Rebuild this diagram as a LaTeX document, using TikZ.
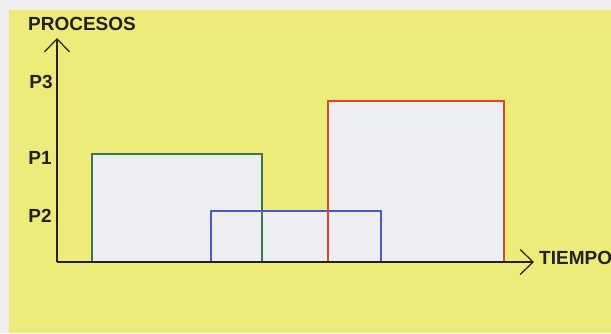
\documentclass[tikz,border=0pt]{standalone}
\usepackage{fontspec}
\setmainfont{Liberation Sans}
\usetikzlibrary{positioning,arrows.meta}

\definecolor{paper}{HTML}{EFEFEF}
\definecolor{yellowbg}{HTML}{EDEB7A}
\definecolor{boxfill}{HTML}{EDEEF2}
\definecolor{axisgray}{HTML}{222222}
\definecolor{pgreen}{HTML}{3C7A4E}
\definecolor{pblue}{HTML}{4A58CC}
\definecolor{pred}{HTML}{E2432F}

\begin{document}
\begin{tikzpicture}[
    x=1pt, y=-1pt,
    lbl/.style={font=\bfseries\fontsize{19}{19}\selectfont, text=axisgray, inner sep=0pt},
    procbox/.style={fill=boxfill, inner sep=0pt, outer sep=0pt, anchor=south west},
    edge/.style={line width=1.5pt},
    axis/.style={line width=1.8pt, draw=axisgray, -{Straight Barb[length=13pt, width=25pt, line width=1.2pt]}}
]

% Background
\useasboundingbox (0,0) rectangle (611,333);
\fill[paper] (0,0) rectangle (611,333);
\fill[yellowbg] (9,10) rectangle (611,333);

% Processes (fills first)
\node[procbox, minimum width=170pt, minimum height=108pt] (p1) at (92,262) {};
\node[procbox, minimum width=170pt, minimum height=51pt] (p2) at (211,262) {};
\node[procbox, minimum width=176pt, minimum height=161pt] (p3) at (328,262) {};

% Outlines
\draw[edge, pgreen] (p1.south west) rectangle (p1.north east);
\draw[edge, pblue] (p2.south west) rectangle (p2.north east);
\draw[edge, pred] (p3.south west) rectangle (p3.north east);

% Axes
\coordinate (origin) at (57,262);
\coordinate (ytip) at (57,38);
\coordinate (xtip) at (534,262);
\draw[axis] (origin) -- (ytip);
\draw[axis] (origin) -- (xtip);

% Labels
\node[lbl] (procesos) at (82,24) {PROCESOS};
\node[lbl] (l3) at (41,82) {P3};
\node[lbl] (l1) at (40,158) {P1};
\node[lbl] (l2) at (40,216) {P2};
\node[lbl, anchor=west] (tiempo) at (539,258) {TIEMPO};

\end{tikzpicture}
\end{document}
